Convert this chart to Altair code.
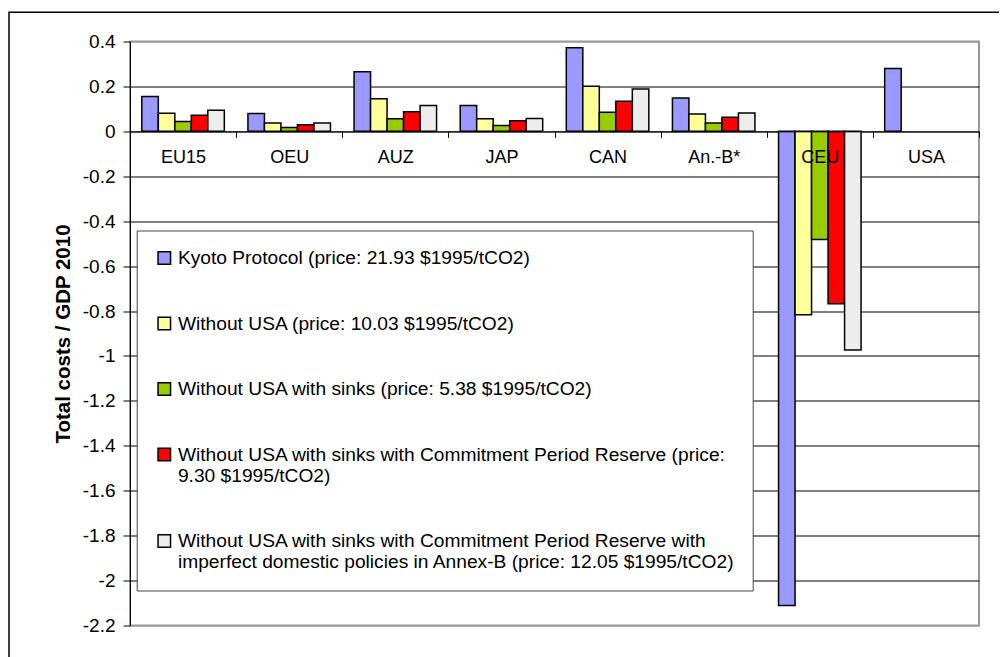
import altair as alt
import pandas as pd

regions = ["EU15", "OEU", "AUZ", "JAP", "CAN", "An.-B*", "CEU", "USA"]
series = [
    "Kyoto Protocol (price: 21.93 $1995/tCO2)",
    "Without USA (price: 10.03 $1995/tCO2)",
    "Without USA with sinks (price: 5.38 $1995/tCO2)",
    "Without USA with sinks with Commitment Period Reserve (price:|9.30 $1995/tCO2)",
    "Without USA with sinks with Commitment Period Reserve with|imperfect domestic policies in Annex-B (price: 12.05 $1995/tCO2)",
]
colors = ["#9999FF", "#FFFF99", "#99CC00", "#FF0000", "#EDEDED"]

kyoto = [0.155, 0.079, 0.265, 0.115, 0.372, 0.149, -2.111, 0.280]
without_usa = [0.081, 0.037, 0.145, 0.056, 0.201, 0.077, -0.817, None]
with_sinks = [0.044, 0.017, 0.056, 0.026, 0.085, 0.037, -0.482, None]
with_cpr = [0.072, 0.029, 0.087, 0.047, 0.134, 0.063, -0.767, None]
with_imperfect = [0.094, 0.037, 0.115, 0.057, 0.188, 0.082, -0.974, None]

y_ticks = [0.4, 0.2, 0, -0.2, -0.4, -0.6, -0.8, -1, -1.2, -1.4, -1.6, -1.8, -2, -2.2]
y_domain = [-2.2, 0.4]

rows = []
for s, vals in zip(series, [kyoto, without_usa, with_sinks, with_cpr, with_imperfect]):
    for r, v in zip(regions, vals):
        if v is not None:
            rows.append({"region": r, "series": s, "value": v})
df = pd.DataFrame(rows)

W, H = 849, 584
zero_offset = -H * (0 - y_domain[0]) / (y_domain[1] - y_domain[0])

bars = alt.Chart(df).mark_bar(stroke="black", strokeWidth=1.5).encode(
    x=alt.X(
        "region:N",
        sort=regions,
        scale=alt.Scale(domain=regions, paddingInner=0, paddingOuter=0),
        axis=alt.Axis(
            title=None, orient="bottom", offset=zero_offset, tickBand="extent",
            ticks=True, tickSize=6, tickColor="black", tickWidth=1,
            domainColor="black", domainWidth=1, labelFontSize=18,
            labelPadding=11, labelAngle=0, labelColor="black", grid=False,
            zindex=1,
        ),
    ),
    xOffset=alt.XOffset(
        "series:N", sort=series,
        scale=alt.Scale(domain=series, paddingInner=0, paddingOuter=0.715),
    ),
    y=alt.Y(
        "value:Q",
        scale=alt.Scale(domain=y_domain, nice=False, zero=False),
        axis=alt.Axis(
            title="Total costs / GDP 2010", values=y_ticks,
            labelExpr="'' + datum.value", labelFontSize=19, labelColor="black",
            labelPadding=8, tickSize=7, tickColor="black", domainColor="black",
            domainWidth=1, grid=True,
            gridColor={"condition": {"test": "datum.value > 0.39 || datum.value < -2.19", "value": "#999999"}, "value": "black"},
            gridWidth=1, titleFontSize=20.5, titleFontWeight="bold",
            titleColor="black", titlePadding=9,
        ),
    ),
    color=alt.Color(
        "series:N", sort=series,
        scale=alt.Scale(domain=series, range=colors),
        legend=alt.Legend(
            title=None, orient="none", legendX=6.7, legendY=189,
            direction="vertical", symbolType="square", symbolSize=156,
            symbolStrokeColor="black", symbolStrokeWidth=1.5,
            labelFontSize=19.2, labelLimit=800, labelOffset=4, labelColor="black",
            rowPadding=45.5, padding=18, strokeColor="#444444", fillColor="white",
            labelExpr="split(datum.label, '|')",
        ),
    ),
)

frame = alt.Chart(pd.DataFrame({"f": [0]})).mark_rect(
    fillOpacity=0, stroke="black", strokeWidth=1.5
).encode(
    x=alt.value(-121), x2=alt.value(960), y=alt.value(-29.2), y2=alt.value(700)
)

chart = alt.layer(frame, bars).properties(
    width=W, height=H,
    autosize=alt.AutoSizeParams(type="none"),
    padding={"left": 122, "top": 33.5, "right": 20, "bottom": 31},
).configure(
    font="Liberation Sans",
).configure_view(
    stroke="#999999", strokeWidth=2,
)

chart.save("out.html", embed_options={"renderer": "svg", "actions": False})
